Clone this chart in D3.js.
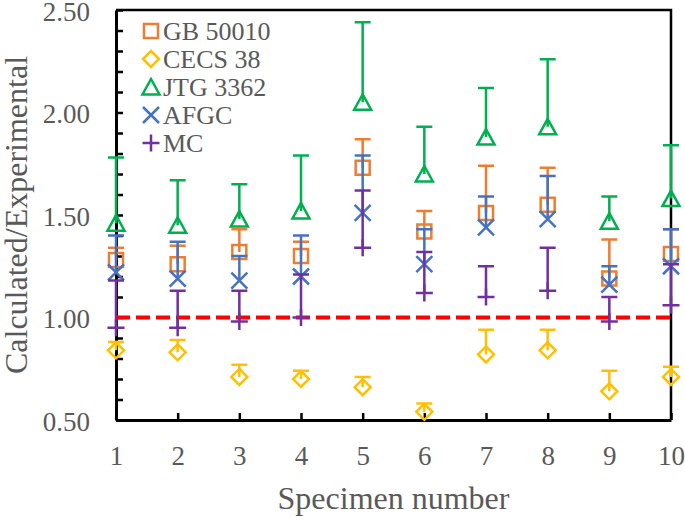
<!DOCTYPE html>
<html>
<head>
<meta charset="utf-8">
<script src="https://cdn.jsdelivr.net/npm/d3@7/dist/d3.min.js"></script>
<style>
  html, body { margin: 0; padding: 0; background: #fff; }
  svg { display: block; }
  text { font-family: "Liberation Serif", "Times New Roman", serif; }
</style>
</head>
<body>
<svg id="chart" width="685" height="517"></svg>
<script>
// ---- data ----
const specimens = [1, 2, 3, 4, 5, 6, 7, 8, 9, 10];
const seriesNames = ["GB 50010", "CECS 38", "JTG 3362", "AFGC", "MC"];
const gbValues   = [1.28, 1.26, 1.32, 1.30, 1.73, 1.42, 1.51, 1.55, 1.19, 1.31];
const gbErr      = [0.06, 0.09, 0.11, 0.07, 0.14, 0.10, 0.23, 0.18, 0.19, 0.12];
const cecsValues = [0.84, 0.83, 0.71, 0.70, 0.66, 0.54, 0.82, 0.84, 0.64, 0.71];
const cecsErr    = [0.04, 0.06, 0.06, 0.04, 0.05, 0.04, 0.12, 0.10, 0.10, 0.05];
const jtgValues  = [1.46, 1.45, 1.48, 1.52, 2.05, 1.70, 1.88, 1.93, 1.47, 1.58];
const jtgErr     = [0.32, 0.22, 0.17, 0.27, 0.39, 0.23, 0.24, 0.33, 0.12, 0.26];
const afgcValues = [1.22, 1.19, 1.18, 1.20, 1.51, 1.26, 1.44, 1.48, 1.16, 1.25];
const afgcErr    = [0.18, 0.18, 0.12, 0.20, 0.28, 0.17, 0.15, 0.21, 0.09, 0.18];
const mcValues   = [0.95, 0.95, 0.98, 1.00, 1.34, 1.12, 1.10, 1.13, 0.98, 1.06];
const mcErr      = [0.23, 0.18, 0.15, 0.21, 0.28, 0.20, 0.15, 0.21, 0.12, 0.20];
const yTickLabels = [0.5, 1.0, 1.5, 2.0, 2.5];
const referenceValue = 1.0;
const xTitle = "Specimen number";
const yTitle = "Calculated/Experimental";

// ---- styling ----
const colors = ["#ED7D31", "#FFC000", "#00B050", "#4472C4", "#7030A0"];
const shapes = ["square", "diamond", "triangle", "x", "plus"];
const textColor = "#595959";

const svg = d3.select("#chart");
const mLeft = 116, mRight = 671, mTop = 10, mBottom = 420;

const x = d3.scaleLinear().domain([1, 10]).range([mLeft, mRight]);
const y = d3.scaleLinear().domain([0.5, 2.5]).range([mBottom, mTop]);

function shapePath(shape) {
  switch (shape) {
    case "square": return "M-7,-7H7V7H-7Z";
    case "diamond": return "M0,-8L8,0L0,8L-8,0Z";
    case "triangle": return "M0,-8L8.5,7.5L-8.5,7.5Z";
    case "x": return "M-8,-8L8,8M8,-8L-8,8";
    case "plus": return "M-8.5,0H8.5M0,-8.5V8.5";
  }
}

// frame (top & right)
svg.append("path")
  .attr("d", `M${mLeft},${mTop}H${mRight}V${mBottom}`)
  .attr("fill", "none").attr("stroke", "#000").attr("stroke-width", 2.5);

// minor y ticks (inside)
const minorY = d3.range(0.5, 2.5001, 0.1);
const yMinorAxis = d3.axisLeft(y).tickValues(minorY).tickFormat("")
  .tickSizeInner(-7).tickSizeOuter(0);
const gyMinor = svg.append("g").attr("transform", `translate(${mLeft},0)`).call(yMinorAxis);
gyMinor.select(".domain").attr("stroke", "#000").attr("stroke-width", 3);
gyMinor.selectAll(".tick line").attr("stroke", "#000").attr("stroke-width", 2.5);

// y labels
const yAxis = d3.axisLeft(y).tickValues(yTickLabels).tickFormat(d3.format(".2f"))
  .tickSize(0).tickPadding(26);
const gy = svg.append("g").attr("transform", `translate(${mLeft},0)`).call(yAxis);
gy.select(".domain").remove();
gy.selectAll("text").attr("fill", textColor).attr("dy", "0.37em")
  .style("font-size", "27px")
  .style("font-family", '"Liberation Serif", serif');

// x axis
const xAxis = d3.axisBottom(x).tickValues(specimens).tickFormat(d3.format("d"))
  .tickSizeInner(-7).tickSizeOuter(0).tickPadding(26);
const gx = svg.append("g").attr("transform", `translate(0,${mBottom})`).call(xAxis);
gx.select(".domain").attr("stroke", "#000").attr("stroke-width", 3);
gx.selectAll(".tick line").attr("stroke", "#000").attr("stroke-width", 2.5);
gx.selectAll("text").attr("fill", textColor).style("font-size", "27px")
  .style("font-family", '"Liberation Serif", serif');

// reference line
svg.append("line")
  .attr("x1", x(1)).attr("x2", x(10))
  .attr("y1", y(referenceValue)).attr("y2", y(referenceValue))
  .attr("stroke", "#FF0000").attr("stroke-width", 4)
  .attr("stroke-dasharray", "14 6");

// series
const series = [
  { name: seriesNames[0], values: gbValues, err: gbErr },
  { name: seriesNames[1], values: cecsValues, err: cecsErr },
  { name: seriesNames[2], values: jtgValues, err: jtgErr },
  { name: seriesNames[3], values: afgcValues, err: afgcErr },
  { name: seriesNames[4], values: mcValues, err: mcErr }
];

series.forEach((s, i) => {
  const g = svg.append("g");
  const pts = specimens.map((sp, j) => ({ sp, v: s.values[j], e: s.err[j] }));
  g.selectAll("path.err").data(pts).enter().append("path")
    .attr("class", "err")
    .attr("d", d => {
      const cx = x(d.sp), cy = y(d.v), ty = y(d.v + d.e);
      return `M${cx},${cy}V${ty}M${cx - 8},${ty}H${cx + 8}`;
    })
    .attr("fill", "none").attr("stroke", colors[i]).attr("stroke-width", 2.5);
  g.selectAll("path.mk").data(pts).enter().append("path")
    .attr("class", "mk")
    .attr("transform", d => `translate(${x(d.sp)},${y(d.v)})`)
    .attr("d", shapePath(shapes[i]))
    .attr("fill", "none").attr("stroke", colors[i]).attr("stroke-width", 2.5);
});

// legend
const legendY = [31, 59, 87, 115, 143];
series.forEach((s, i) => {
  const g = svg.append("g").attr("transform", `translate(151,${legendY[i]})`);
  g.append("path").attr("d", shapePath(shapes[i]))
    .attr("fill", "none").attr("stroke", colors[i]).attr("stroke-width", 2.5);
  g.append("text").attr("x", 12).attr("y", 0).attr("dy", "0.35em")
    .attr("fill", textColor).style("font-size", "26px").text(s.name);
});

// axis titles
svg.append("text")
  .attr("x", (mLeft + mRight) / 2).attr("y", 509)
  .attr("text-anchor", "middle").attr("fill", textColor)
  .style("font-size", "32px").text(xTitle);
svg.append("text")
  .attr("transform", `translate(27,${(mTop + mBottom) / 2}) rotate(-90)`)
  .attr("text-anchor", "middle").attr("fill", textColor)
  .style("font-size", "32px").text(yTitle);
</script>
</body>
</html>
